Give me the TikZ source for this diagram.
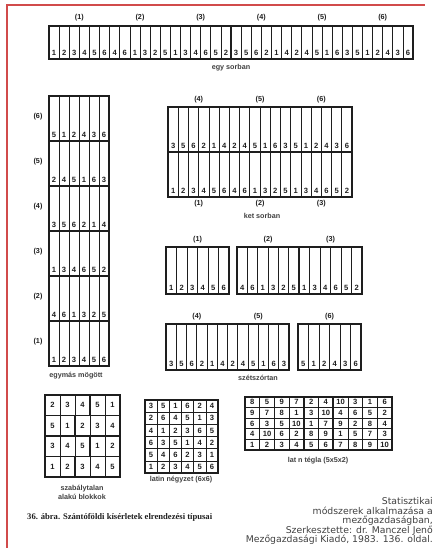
\documentclass[tikz,border=0pt]{standalone}
\usepackage{fontspec}
\setmainfont{Liberation Sans}
\newfontfamily\capfont{Liberation Serif}
\newfontfamily\notefont{DejaVu Sans}
\usetikzlibrary{positioning}
\definecolor{ink}{HTML}{1E1E1E}
\definecolor{framered}{HTML}{D14B4B}

% treatment order in the six blocks
\def\plan{{1,2,3,4,5,6, 4,6,1,3,2,5, 1,3,4,6,5,2, 3,5,6,2,1,4, 2,4,5,1,6,3, 5,1,2,4,3,6}}

\begin{document}
\begin{tikzpicture}[x=1pt, y=-1pt,
    num/.style={font=\bfseries\fontsize{7.6}{8}\selectfont, text=ink, inner sep=0pt},
    lbl/.style={font=\bfseries\fontsize{7.2}{8}\selectfont, text=ink, inner sep=0pt},
    labeltext/.style={font=\bfseries\fontsize{7.2}{9}\selectfont, text=ink!85, inner sep=0pt, align=center},
    thin line/.style={draw=ink, line width=0.7pt},
    thick line/.style={draw=ink, line width=1.5pt}
]
\useasboundingbox (0,0) rectangle (436,548);

% Frame
\draw[framered, line width=2pt] (7,548) -- (7,5) -- (425,5);

% Plot groups: layout/block/x/y/width/height
\foreach \lay/\k/\x/\y/\w/\h in {
    E/1/49/26/60.667/33, E/2/109.667/26/60.667/33, E/3/170.333/26/60.667/33,
    E/4/231/26/60.667/33, E/5/291.667/26/60.667/33, E/6/352.333/26/60.667/33,
    M/1/49/321/60/45, M/2/49/276/60/45, M/3/49/231/60/45,
    M/4/49/186/60/45, M/5/49/141/60/45, M/6/49/96/60/45,
    K/1/168/152/61.333/45, K/2/229.333/152/61.333/45, K/3/290.667/152/61.333/45,
    K/4/168/107/61.333/45, K/5/229.333/107/61.333/45, K/6/290.667/107/61.333/45,
    S/1/166/247/63/47, S/2/237/247/62/47, S/3/299/247/63/47,
    S/4/166/324/61.5/46, S/5/227.5/324/61.5/46, S/6/298/324/63/46} {
  \foreach \i in {0,...,5} {
    \pgfmathtruncatemacro\n{\plan[(\k-1)*6+\i]}
    \draw[thin line] ({\x+\i*\w/6},\y) -- ++(0,\h);
    \node[num] (\lay\k-\i) at ({\x+(\i+0.5)*\w/6},{\y+\h-6.5}) {\n};
  }
  \draw[thick line] (\x,\y) rectangle ++(\w,\h);
}

% Block numbers
\foreach \lay/\k/\x/\y in {
    E/1/79.3/18, E/2/140/18, E/3/200.7/18, E/4/261.3/18, E/5/322/18, E/6/382.7/18,
    M/1/38/341.5, M/2/38/296.5, M/3/38/251.5, M/4/38/206.5, M/5/38/161.5, M/6/38/116.5,
    K/1/198.7/204, K/2/260/204, K/3/321.3/204, K/4/198.7/100, K/5/260/100, K/6/321.3/100,
    S/1/197.5/240, S/2/268/240, S/3/330.5/240, S/4/196.8/317, S/5/258.3/317, S/6/329.5/317}
  \node[lbl] (\lay-lab\k) at (\x,\y) {(\k)};

% Irregular blocks
\foreach \row [count=\r from 0] in {{2,3,4,5,1},{5,1,2,3,4},{3,4,5,1,2},{1,2,3,4,5}}
  \foreach \n [count=\c from 0] in \row
    \node[num] (irr\r-\c) at ({45+(\c+0.5)*15},{395+(\r+0.5)*20.5}) {\n};
\foreach \c in {1,...,4} \draw[thin line] ({45+\c*15},395) -- ++(0,82);
\foreach \r in {1,2,3} \draw[thin line] (45,{395+\r*20.5}) -- ++(75,0);
\draw[thick line] (90,395) -- (90,415.5) -- (75,415.5) -- (75,436);
\draw[thick line] (45,436) -- (120,436);
\draw[thick line] (90,436) -- (90,456.5) -- (75,456.5) -- (75,477);
\draw[thick line] (45,395) rectangle (120,477);

% Latin square
\foreach \row [count=\r from 0] in {{3,5,1,6,2,4},{2,6,4,5,1,3},{4,1,2,3,6,5},{6,3,5,1,4,2},{5,4,6,2,3,1},{1,2,3,4,5,6}}
  \foreach \n [count=\c from 0] in \row
    \node[num] (sq\r-\c) at ({145+(\c+0.5)*12.17},{400+(\r+0.5)*12.17}) {\n};
\foreach \j in {1,...,5} {
  \draw[thin line] ({145+\j*12.17},400) -- ++(0,73);
  \draw[thin line] (145,{400+\j*12.17}) -- ++(73,0);
}
\draw[thick line] (145,400) rectangle (218,473);

% Latin rectangle
\foreach \row [count=\r from 0] in {{8,5,9,7,2,4,10,3,1,6},{9,7,8,1,3,10,4,6,5,2},{6,3,5,10,1,7,9,2,8,4},{4,10,6,2,8,9,1,5,7,3},{1,2,3,4,5,6,7,8,9,10}}
  \foreach \n [count=\c from 0] in \row
    \node[num] (rc\r-\c) at ({245+(\c+0.5)*14.7},{397+(\r+0.5)*10.6}) {\n};
\foreach \c in {1,3,5,7,9} \draw[thin line] ({245+\c*14.7},397) -- ++(0,53);
\foreach \c in {2,4,6,8} \draw[thick line] ({245+\c*14.7},397) -- ++(0,53);
\foreach \r in {1,...,4} \draw[thin line] (245,{397+\r*10.6}) -- ++(147,0);
\draw[thick line] (245,397) rectangle (392,450);

% Labels
\node[labeltext] (egysor) at (231,68) {egy sorban};
\node[labeltext] (egymas) at (76,376) {egymás mögött};
\node[labeltext] (ketsor) at (262,216) {ket sorban};
\node[labeltext] (szet) at (258,378) {szétszórtan};
\node[labeltext] (szab) at (82,492) {szabálytalan\\alakú blokkok};
\node[labeltext] (latsq) at (181,480) {latin négyzet (6x6)};
\node[labeltext] (latre) at (318,461) {lat n tégla (5x5x2)};

% Caption and source
\node[font=\capfont\bfseries\fontsize{8.6}{9}\selectfont, text=ink, inner sep=0pt, anchor=west] (caption) at (27,517) {36. ábra. Szántóföldi kísérletek elrendezési típusai};
\node[font=\notefont\fontsize{9.3}{9.5}\selectfont, text=ink!85, align=right, anchor=south east, inner sep=0pt] (source) at (433,545)
  {Statisztikai\\módszerek alkalmazása a\\mezőgazdaságban,\\Szerkesztette: dr. Manczel Jenő\\Mezőgazdasági Kiadó, 1983. 136. oldal.};

\end{tikzpicture}
\end{document}
